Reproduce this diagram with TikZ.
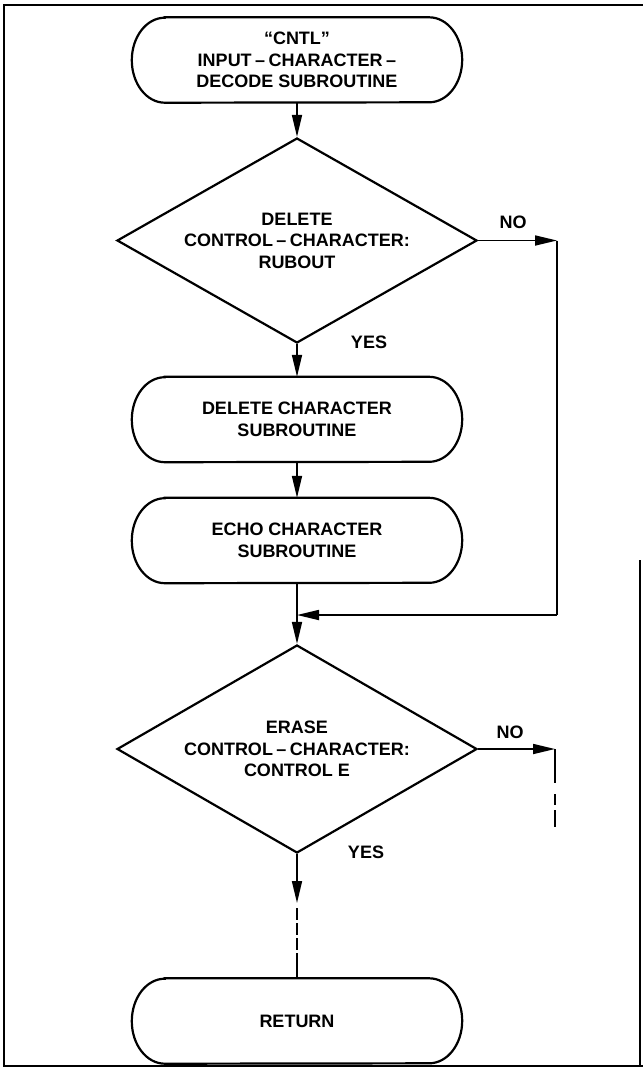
\documentclass[tikz,border=0pt]{standalone}
\usepackage{fontspec}
\setmainfont{Liberation Sans}
\usetikzlibrary{arrows.meta,shapes.geometric}

% dash between words, with a little air round it
\newcommand\wdash{\hspace{3.5pt}–\hspace{3.5pt}}

% terminal outline with elliptical ends, drawn round a named node
\newcommand\termoutline[1]{%
  \draw[shapeline] ([xshift=33pt]#1.north west) -- ([xshift=-33pt]#1.north east)
    arc[start angle=90,end angle=-90,x radius=33pt,y radius=42.5pt]
    -- ([xshift=33pt]#1.south west)
    arc[start angle=270,end angle=90,x radius=33pt,y radius=42.5pt] -- cycle;}

\tikzset{
  txt/.style={font=\fontsize{18}{21.5}\selectfont\bfseries},
  shapeline/.style={line width=2.2pt},
  term/.style={txt, rectangle, minimum width=330pt, minimum height=85pt,
               inner sep=0pt, align=center},
  dec/.style={txt, diamond, draw, shapeline, aspect=1.75, minimum width=360pt,
              minimum height=205pt, inner sep=0pt, align=center},
  lbl/.style={txt, inner sep=0pt},
  flow/.style={line width=1.7pt},
  arr/.style={flow, -{Triangle[length=22pt,width=10pt]}},
  framel/.style={line width=2pt},
}

\begin{document}
\begin{tikzpicture}[x=1pt,y=-1pt]
  \useasboundingbox (0,0) rectangle (643,1069);

  % page frame
  \draw[framel] (643,5) -- (4,5) -- (4,1066) -- (643,1066);
  \draw[line width=1.2pt] (640,560) -- (640,1066);

  % terminals
  \node[term] (start) at (297,60)
    {“CNTL”\\INPUT\wdash CHARACTER\wdash\\DECODE SUBROUTINE};
  \termoutline{start}
  \node[term] (delchar) at (297,419.5) {DELETE CHARACTER\\SUBROUTINE};
  \termoutline{delchar}
  \node[term] (echo) at (297,540.5) {ECHO CHARACTER\\SUBROUTINE};
  \termoutline{echo}
  \node[term] (ret) at (297,1021) {RETURN};
  \termoutline{ret}

  % decisions
  \node[dec] (rubout) at (297,240.5)
    {DELETE\\CONTROL\wdash CHARACTER:\\RUBOUT};
  \node[dec, minimum height=208pt] (ctle) at (297,749)
    {ERASE\\CONTROL\wdash CHARACTER:\\CONTROL E};

  % branch labels
  \node[lbl] (no1) at (513,222) {NO};
  \node[lbl] (yes1) at (369,342) {YES};
  \node[lbl] (no2) at (510,732) {NO};
  \node[lbl] (yes2) at (366,852) {YES};

  % bend points of the connectors
  \coordinate (b1) at (557,240.5);
  \coordinate (b2) at (557,615);
  \coordinate (join) at (297,615);
  \coordinate (b3) at (555,749);
  \coordinate (b4) at (555,783);
  \coordinate (b5) at (555,828);
  \coordinate (b6) at (297,903);
  \coordinate (b7) at (297,953);

  % main flow
  \draw[arr] (start.south) -- (rubout.north);
  \draw[arr] (rubout.south) -- (delchar.north);
  \draw[arr] (delchar.south) -- (echo.north);
  \draw[arr] (echo.south) -- (ctle.north);

  % "no" path round the delete routines
  \draw[arr] (rubout.east) -- (b1);
  \draw[flow] (b1) -- (b2);
  \draw[arr] (b2) -- (join);

  % "no" exit of the erase test, continued elsewhere
  \draw[arr] (ctle.east) -- (b3);
  \draw[flow] (b3) -- (b4);
  \draw[flow, dash pattern=on 0pt off 11pt on 11pt off 5pt on 17pt off 50pt] (b4) -- (b5);

  % "yes" exit down to return
  \draw[arr] (ctle.south) -- (b6);
  \draw[flow, dash pattern=on 0pt off 5pt on 12pt off 3pt on 12pt off 3pt on 12pt off 3pt]
    (b6) -- (b7);
  \draw[flow] (b7) -- (ret.north);
\end{tikzpicture}
\end{document}
